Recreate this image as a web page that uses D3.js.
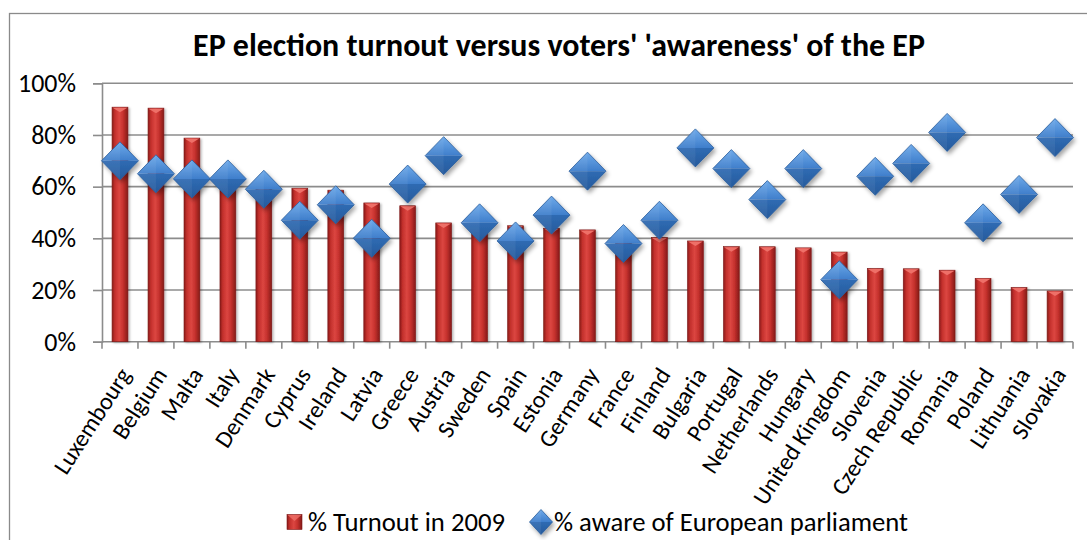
<!DOCTYPE html>
<html><head><meta charset="utf-8">
<script src="https://cdn.jsdelivr.net/npm/d3@7"></script>
<style>html,body{margin:0;padding:0;background:#fff;} svg{display:block;}</style>
</head><body><svg id="c" width="1087" height="540"></svg>
<script>
const categories = ["Luxembourg","Belgium","Malta","Italy","Denmark","Cyprus","Ireland","Latvia","Greece","Austria","Sweden","Spain","Estonia","Germany","France","Finland","Bulgaria","Portugal","Netherlands","Hungary","United Kingdom","Slovenia","Czech Republic","Romania","Poland","Lithuania","Slovakia"];
const turnout = [90.76,90.39,78.79,65.05,59.54,59.40,58.64,53.70,52.61,45.97,45.53,44.87,43.90,43.27,40.63,40.30,38.99,36.78,36.75,36.31,34.70,28.33,28.22,27.67,24.53,20.98,19.64];
const aware = [70,65,63,63,59,47,53,40,61,72,46,39,49,66,38,47,75,67,55,67,24,64,69,81,46,57,79];
const yTicks = [0,20,40,60,80,100];
const seriesNames = ["% Turnout in 2009","% aware of European parliament"];
const titleText = "EP election turnout versus voters' 'awareness' of the EP";

const plot = {left:102, right:1073, top:83.3, bottom:341.7};
const FONT = "Carlito, Calibri, Lato, sans-serif";
const svg = d3.select("#c");

function fitSize(text, weight, targetW){
  const t = svg.append("text").attr("font-family",FONT).attr("font-weight",weight).attr("font-size",100).text(text);
  const w = t.node().getComputedTextLength(); t.remove();
  return 100*targetW/w;
}
const titleSize = fitSize(titleText,"bold",732);
const legendSize = fitSize(seriesNames[0],"normal",197);
const tickSize = fitSize("100%","normal",58);
const catSize = fitSize("Luxembourg","normal",121);

const x = d3.scaleBand().domain(categories).range([plot.left, plot.right]).padding(0);
const y = d3.scaleLinear().domain([0,100]).range([plot.bottom, plot.top]);
const barW = x.bandwidth()*0.44;

// defs
const defs = svg.append("defs");
const bg = defs.append("linearGradient").attr("id","barGrad").attr("x1","0").attr("x2","1").attr("y1","0").attr("y2","0");
[[0,"#8a1b19"],[0.18,"#c3302c"],[0.45,"#dc4641"],[0.7,"#c5312d"],[1,"#851a18"]].forEach(s=>bg.append("stop").attr("offset",s[0]).attr("stop-color",s[1]));
const dt = defs.append("linearGradient").attr("id","dTop").attr("x1","0").attr("x2","0").attr("y1","0").attr("y2","1");
[[0,"#6eaaea"],[1,"#3f7ecb"]].forEach(s=>dt.append("stop").attr("offset",s[0]).attr("stop-color",s[1]));
const db = defs.append("linearGradient").attr("id","dBot").attr("x1","0").attr("x2","0").attr("y1","0").attr("y2","1");
[[0,"#2f6bb3"],[1,"#265a9c"]].forEach(s=>db.append("stop").attr("offset",s[0]).attr("stop-color",s[1]));
const f = defs.append("filter").attr("id","shadow").attr("x","-50%").attr("y","-50%").attr("width","200%").attr("height","200%");
f.append("feDropShadow").attr("dx",2).attr("dy",3).attr("stdDeviation",2).attr("flood-color","#000").attr("flood-opacity",0.35);
const f2 = defs.append("filter").attr("id","bshadow").attr("x","-50%").attr("y","-10%").attr("width","200%").attr("height","120%");
f2.append("feDropShadow").attr("dx",1.5).attr("dy",1).attr("stdDeviation",1.2).attr("flood-color","#000").attr("flood-opacity",0.3);

// border
svg.append("rect").attr("x",9.5).attr("y",13.5).attr("width",1100).attr("height",600)
  .attr("fill","none").attr("stroke","#8a8a8a").attr("stroke-width",1.3);

// title
svg.append("text").attr("x",559).attr("y",56).attr("text-anchor","middle")
  .attr("font-family",FONT).attr("font-weight","bold").attr("font-size",titleSize).attr("fill","#000").text(titleText);

// gridlines
svg.append("g").selectAll("line").data(yTicks).join("line")
  .attr("x1",plot.left).attr("x2",plot.right).attr("y1",d=>y(d)).attr("y2",d=>y(d))
  .attr("stroke","#8c8c8c").attr("stroke-width",1.6);

// y axis
const ya = svg.append("g").attr("transform",`translate(${plot.left},0)`)
  .call(d3.axisLeft(y).tickValues(yTicks).tickSize(9).tickPadding(17).tickFormat(d=>d+"%"));
ya.select(".domain").attr("stroke","#8c8c8c").attr("stroke-width",1.6);
ya.selectAll(".tick line").attr("stroke","#8c8c8c").attr("stroke-width",1.6);
ya.selectAll(".tick text").attr("font-family",FONT).attr("font-size",tickSize).attr("fill","#000");

// x ticks at category boundaries
const bounds = d3.range(categories.length+1).map(i=>plot.left + i*x.step());
svg.append("g").selectAll("line").data(bounds).join("line")
  .attr("x1",d=>d).attr("x2",d=>d).attr("y1",plot.bottom).attr("y2",plot.bottom+7)
  .attr("stroke","#8c8c8c").attr("stroke-width",1.6);

// category labels
svg.append("g").selectAll("text").data(categories).join("text")
  .attr("transform",d=>`translate(${x(d)+x.bandwidth()/2+6},${plot.bottom+29}) rotate(-57)`)
  .attr("text-anchor","end").attr("dy","0.3em")
  .attr("font-family",FONT).attr("font-size",catSize).attr("fill","#000").text(d=>d);

// bars
const bars = svg.append("g");
categories.forEach((c,i)=>{
  const cx = x(c)+x.bandwidth()/2, top = y(turnout[i]);
  const g = bars.append("g").attr("filter","url(#bshadow)");
  g.append("rect").attr("x",cx-barW/2).attr("y",top).attr("width",barW).attr("height",plot.bottom-top)
    .attr("fill","url(#barGrad)").attr("stroke","#7d1715").attr("stroke-width",0.6);
  g.append("polygon").attr("points",`${cx-barW/2+0.5},${top+0.5} ${cx+barW/2-0.5},${top+0.5} ${cx},${top+5}`)
    .attr("fill","#ee6f68");
});

// diamonds
const rX = 18.5, rY = 19;
function diamond(g, r1, r2){
  g.append("polygon").attr("points",`${-r1},0 0,${-r2} ${r1},0`).attr("fill","url(#dTop)");
  g.append("polygon").attr("points",`${-r1},0 ${r1},0 0,${r2}`).attr("fill","url(#dBot)");
  g.append("polygon").attr("points",`${-r1},0 0,${-r2} 0,${r2}`).attr("fill","#ffffff").attr("opacity",0.06);
  g.append("polygon").attr("points",`${-r1},0 0,${-r2} ${r1},0 0,${r2}`).attr("fill","none").attr("stroke","#2a5d9c").attr("stroke-width",0.8);
}
const dg = svg.append("g");
categories.forEach((c,i)=>{
  const g = dg.append("g").attr("transform",`translate(${x(c)+x.bandwidth()/2},${y(aware[i])})`).attr("filter","url(#shadow)");
  diamond(g, rX, rY);
});

// legend
const ly = 522;
const lg = svg.append("g");
lg.append("rect").attr("x",287).attr("y",ly-7.5).attr("width",15).attr("height",15).attr("fill","url(#barGrad)").attr("stroke","#7d1715").attr("stroke-width",0.6);
lg.append("polygon").attr("points",`287.5,${ly-7} 301.5,${ly-7} 294.5,${ly-1}`).attr("fill","#ee6f68").attr("opacity",0.8);
lg.append("text").attr("x",308).attr("y",ly).attr("dy","0.35em").attr("font-family",FONT).attr("font-size",legendSize).text(seriesNames[0]);
const ld = lg.append("g").attr("transform",`translate(541,${ly})`).attr("filter","url(#shadow)");
diamond(ld, 11.5, 12.5);
lg.append("text").attr("x",554).attr("y",ly).attr("dy","0.35em").attr("font-family",FONT).attr("font-size",legendSize).text(seriesNames[1]);
</script></body></html>
